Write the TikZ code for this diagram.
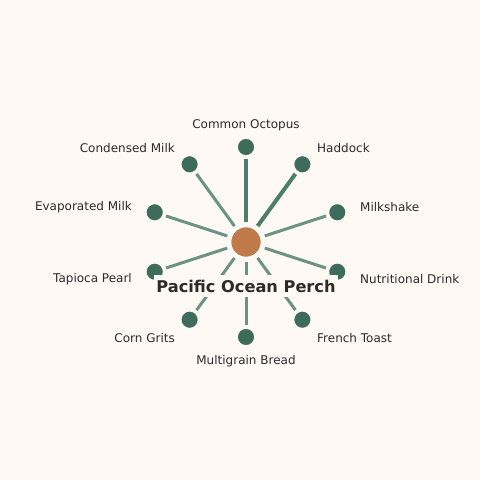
\documentclass[tikz,border=0pt]{standalone}
\usepackage{fontspec}
\setmainfont{DejaVu Sans}
\definecolor{bg}{HTML}{FFF9F5}
\definecolor{hub}{HTML}{C07A4A}
\definecolor{leafc}{HTML}{3D6B5C}
\definecolor{spokeA}{HTML}{4E7D6E}
\definecolor{spokeB}{HTML}{6A9383}
\definecolor{txt}{HTML}{2B2B2B}
\begin{document}
\begin{tikzpicture}[x=1pt,y=-1pt,
  hubnode/.style={circle,fill=hub,draw=white,line width=1.5pt,minimum size=31pt,inner sep=0pt},
  leaf/.style={circle,fill=leafc,draw=bg,line width=1.2pt,minimum size=17.5pt,inner sep=0pt},
  spoke/.style={draw=spokeB,line width=3pt,shorten <=3.5pt,shorten >=2.5pt},
  spokeH/.style={draw=spokeA,line width=4pt,shorten <=3.5pt,shorten >=2.5pt},
  lbl/.style={font=\fontsize{12}{14}\selectfont,text=txt,inner sep=0pt}]
\fill[bg] (0,0) rectangle (480,480);
\node[hubnode] (c) at (246,242) {};
\node[leaf] (n1) at (246,147) {};
\node[leaf] (n2) at (302.4,164.3) {};
\node[leaf] (n3) at (337.3,212.3) {};
\node[leaf] (n4) at (337.3,271.7) {};
\node[leaf] (n5) at (302.4,319.7) {};
\node[leaf] (n6) at (246,337) {};
\node[leaf] (n7) at (189.6,319.7) {};
\node[leaf] (n8) at (154.7,271.7) {};
\node[leaf] (n9) at (154.7,212.3) {};
\node[leaf] (n10) at (189.6,164.3) {};
\draw[spokeH] (c) -- (n1);
\draw[spokeH] (c) -- (n2);
\draw[spoke] (c) -- (n3);
\draw[spoke] (c) -- (n4);
\draw[spoke] (c) -- (n5);
\draw[spoke] (c) -- (n6);
\draw[spoke] (c) -- (n7);
\draw[spoke] (c) -- (n8);
\draw[spoke] (c) -- (n9);
\draw[spoke] (c) -- (n10);
\node[hubnode] at (c) {};
\foreach \i in {1,...,10} {\node[leaf] at (n\i) {};}
\node[lbl,anchor=center] (l1) at (246,125.5) {Common Octopus};
\node[lbl,anchor=west] (l2) at (317,148.5) {Haddock};
\node[lbl,anchor=west] (l3) at (360,207.5) {Milkshake};
\node[lbl,anchor=west] (l4) at (360,279.5) {Nutritional Drink};
\node[lbl,anchor=west] (l5) at (317,338.5) {French Toast};
\node[lbl,anchor=center] (l6) at (246,361.5) {Multigrain Bread};
\node[lbl,anchor=east] (l7) at (175,338.5) {Corn Grits};
\node[lbl,anchor=east] (l8) at (132,279.5) {Tapioca Pearl};
\node[lbl,anchor=east] (l9) at (132,207.5) {Evaporated Milk};
\node[lbl,anchor=east] (l10) at (175,148.5) {Condensed Milk};
\node[fill=bg,minimum width=184pt,minimum height=22pt,inner sep=0pt,text=txt,
  font=\fontsize{16.2}{19}\selectfont\bfseries] (title) at (246,286) {Pacific Ocean Perch};
\end{tikzpicture}
\end{document}
